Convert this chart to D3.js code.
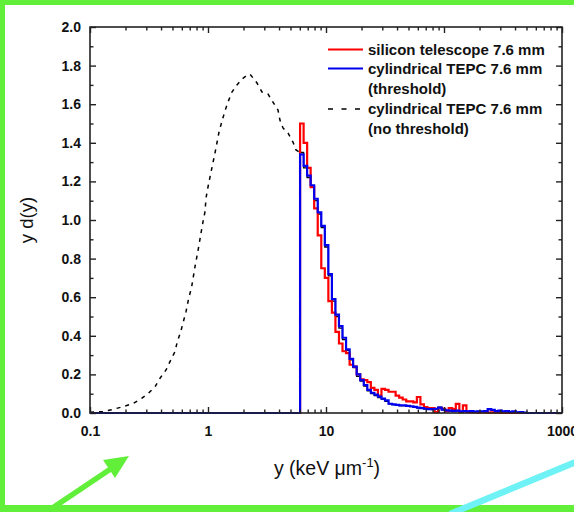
<!DOCTYPE html>
<html><head><meta charset="utf-8">
<script src="https://cdn.jsdelivr.net/npm/d3@7"></script>
<style>body{margin:0;background:#fff}svg{display:block}text{font-family:"Liberation Sans",Arial,sans-serif}</style>
</head><body><svg id="c" width="574" height="512"></svg>
<script>
// ---------- data ----------
const xTickLabels = [0.1, 1, 10, 100, 1000];
const xMinorTicks = [0.2,0.3,0.4,0.5,0.6,0.7,0.8,0.9,2,3,4,5,6,7,8,9,20,30,40,50,60,70,80,90,200,300,400,500,600,700,800,900];
const yTickLabels = [0, 0.2, 0.4, 0.6, 0.8, 1.0, 1.2, 1.4, 1.6, 1.8, 2.0];
const yMinorTicks = [0.1,0.3,0.5,0.7,0.9,1.1,1.3,1.5,1.7,1.9];

const legendLabels = ["silicon telescope 7.6 mm", "cylindrical TEPC 7.6 mm", "(threshold)", "cylindrical TEPC 7.6 mm", "(no threshold)"];

// cylindrical TEPC, no threshold: smooth low-y part (dashed)
const noThrX = [0.1,0.13,0.157,0.191,0.233,0.274,0.312,0.356,0.392,0.441,0.476,0.525,0.549,0.587,0.618,0.651,0.681,0.727,0.776,0.828,0.873,0.907,0.944,0.962,1.0,1.04,1.10,1.146,1.19,1.24,1.315,1.393,1.476,1.596,1.76,1.94,2.14,2.27,2.41,2.60,2.87,3.22,3.55,3.92,4.07,4.32,4.77,5.25,5.57,6.03];
const noThrY = [0.004,0.007,0.019,0.033,0.050,0.076,0.102,0.136,0.180,0.223,0.266,0.318,0.369,0.421,0.473,0.525,0.585,0.654,0.758,0.85,0.933,0.99,1.044,1.114,1.171,1.223,1.295,1.347,1.399,1.456,1.513,1.565,1.611,1.663,1.70,1.73,1.75,1.755,1.736,1.71,1.663,1.653,1.611,1.57,1.518,1.477,1.45,1.404,1.363,1.35];

// histogram bin edges (keV/um)
const binEdges = [6.03,6.46,6.92,7.41,7.94,8.51,9.12,9.77,10.47,11.22,12.02,12.88,13.80,14.79,15.85,16.98,18.20,19.50,20.89,22.39,23.99,25.70,27.54,29.51,31.62,33.88,36.31,38.90,41.69,44.67,47.86,51.29,54.95,58.88,63.10,67.61,72.44,77.62,83.18,89.13,95.50,102.3,109.6,117.5,125.9,134.9,144.5,154.9,166.0,177.8,190.5,204.2,218.8,234.4,251.2,269.2,288.4,309.0,331.1,354.8,380.2,407.4,436.5,467.7,501.2];

const siliconY = [1.50,1.40,1.27,1.17,1.06,0.92,0.75,0.70,0.58,0.52,0.42,0.36,0.32,0.31,0.25,0.24,0.20,0.175,0.17,0.16,0.13,0.12,0.09,0.125,0.12,0.11,0.11,0.09,0.08,0.07,0.06,0.06,0.055,0.083,0.045,0.03,0.025,0.025,0.005,0.025,0.022,0.01,0.025,0.02,0.047,0.005,0.04,0.005,0.003,0.005,0.002,0.004,0.003,0.002,0.003,0.002,0.002,0.001,0.002,0.001,0,0,0,0];

const tepcThrY = [1.34,1.28,1.23,1.18,1.11,1.04,0.97,0.87,0.72,0.59,0.51,0.45,0.39,0.33,0.28,0.24,0.20,0.17,0.145,0.12,0.105,0.095,0.085,0.075,0.065,0.048,0.045,0.042,0.04,0.04,0.037,0.035,0.032,0.028,0.025,0.022,0.02,0.02,0.022,0.028,0.018,0.014,0.012,0.01,0.012,0.008,0.01,0.008,0.01,0.007,0.009,0.008,0.01,0.02,0.016,0.01,0.012,0.008,0.01,0.006,0.008,0.004,0.005,0.002];

const tepcNoThrTailY = [1.35,1.27,1.22,1.17,1.10,1.03,0.96,0.86,0.71,0.58,0.50,0.44,0.38,0.325,0.275,0.235,0.19,0.165,0.14,0.115,0.10,0.09,0.08,0.072,0.06,0.047,0.043,0.04,0.038,0.038,0.035,0.033,0.03,0.027,0.024,0.021,0.019,0.018,0.02,0.03,0.016,0.013,0.011,0.009,0.011,0.007,0.009,0.007,0.009,0.006,0.008,0.007,0.009,0.018,0.015,0.009,0.011,0.007,0.009,0.005,0.007,0.003,0.004,0.001];

// ---------- layout ----------
const svg = d3.select("#c");
const L = 90, R = 562, T = 27, B = 413;
const x = d3.scaleLog().domain([0.1, 1000]).range([L, R]);
const y = d3.scaleLinear().domain([0, 2]).range([B, T]);
const axisColor = "#222";

// ---------- data lines ----------
function stepPoints(vals, edges) {
  const pts = [[0.1, 0]];
  vals.forEach((v, i) => pts.push([edges[i], v]));
  pts.push([edges[vals.length], 0]);
  pts.push([1000, 0]);
  return pts;
}
const stepLine = d3.line().x(d => x(d[0])).y(d => y(d[1])).curve(d3.curveStepAfter);
const smoothLine = d3.line().x(d => x(d[0])).y(d => y(d[1]));

const g = svg.append("g");
g.append("path").attr("d", smoothLine(noThrX.map((v, i) => [v, noThrY[i]])))
  .attr("fill", "none").attr("stroke", "#000").attr("stroke-width", 1.5).attr("stroke-dasharray", "4,5");
g.append("path").attr("d", stepLine(stepPoints(tepcNoThrTailY, binEdges).slice(1)))
  .attr("fill", "none").attr("stroke", "#000").attr("stroke-width", 1.3);
g.append("path").attr("d", stepLine(stepPoints(siliconY, binEdges)))
  .attr("fill", "none").attr("stroke", "#ff0000").attr("stroke-width", 2.2);
g.append("path").attr("d", stepLine(stepPoints(tepcThrY, binEdges)))
  .attr("fill", "none").attr("stroke", "#0000ee").attr("stroke-width", 2.2);

// ---------- axes ----------
const fontTick = "bold 14px 'Liberation Sans', Arial, sans-serif";
function styleAxis(sel) {
  sel.select(".domain").remove();
  sel.selectAll("line").attr("stroke", axisColor).attr("stroke-width", 1.4);
  sel.selectAll("text").style("font", fontTick).attr("fill", "#111");
}
const fmtX = d => String(d);
svg.append("g").attr("transform", `translate(0,${B})`)
  .call(d3.axisBottom(x).tickValues(xTickLabels).tickFormat(fmtX).tickSize(-6).tickPadding(13)).call(styleAxis);
svg.append("g").attr("transform", `translate(0,${B})`)
  .call(d3.axisBottom(x).tickValues(xMinorTicks).tickFormat("").tickSize(-3.5)).call(styleAxis);
svg.append("g").attr("transform", `translate(0,${T})`)
  .call(d3.axisTop(x).tickValues(xTickLabels).tickFormat("").tickSize(-6)).call(styleAxis);
svg.append("g").attr("transform", `translate(0,${T})`)
  .call(d3.axisTop(x).tickValues(xMinorTicks).tickFormat("").tickSize(-3.5)).call(styleAxis);

svg.append("g").attr("transform", `translate(${L},0)`)
  .call(d3.axisLeft(y).tickValues(yTickLabels).tickFormat(d3.format(".1f")).tickSize(-6).tickPadding(9)).call(styleAxis);
svg.append("g").attr("transform", `translate(${L},0)`)
  .call(d3.axisLeft(y).tickValues(yMinorTicks).tickFormat("").tickSize(-3.5)).call(styleAxis);
svg.append("g").attr("transform", `translate(${R},0)`)
  .call(d3.axisRight(y).tickValues(yTickLabels).tickFormat("").tickSize(-6)).call(styleAxis);
svg.append("g").attr("transform", `translate(${R},0)`)
  .call(d3.axisRight(y).tickValues(yMinorTicks).tickFormat("").tickSize(-3.5)).call(styleAxis);

svg.append("rect").attr("x", L).attr("y", T).attr("width", R - L).attr("height", B - T)
  .attr("fill", "none").attr("stroke", axisColor).attr("stroke-width", 1.6);

// axis titles
const xt = svg.append("text").attr("x", 327).attr("y", 475).attr("text-anchor", "middle")
  .style("font-size", "19.5px").attr("fill", "#111");
xt.append("tspan").text("y (keV \u03bcm");
xt.append("tspan").attr("dy", -8).style("font-size", "13px").text("-1");
xt.append("tspan").attr("dy", 8).text(")");

svg.append("text").attr("transform", "translate(33,220) rotate(-90)").attr("text-anchor", "middle")
  .style("font-size", "18.5px").attr("fill", "#111").text("y d(y)");

// legend
const lg = svg.append("g");
const legLines = [
  {y: 49.5, color: "#ff0000", dash: null},
  {y: 68.5, color: "#0000ee", dash: null},
  {y: 109, color: "#000", dash: "5,8.5"}
];
legLines.forEach(d => {
  lg.append("line").attr("x1", 328).attr("x2", 363).attr("y1", d.y).attr("y2", d.y)
    .attr("stroke", d.color).attr("stroke-width", d.dash ? 1.5 : 2.2).attr("stroke-dasharray", d.dash);
});
const legBase = [54.5, 73.5, 93.5, 113.5, 133.5];
legendLabels.forEach((t, i) => {
  lg.append("text").attr("x", 368).attr("y", legBase[i])
    .style("font", "bold 15px 'Liberation Sans', Arial, sans-serif").attr("fill", "#111").text(t);
});

// ---------- decorations ----------
const green = "#62ef3a";
svg.append("rect").attr("x", 0).attr("y", 0).attr("width", 574).attr("height", 5).attr("fill", green);
svg.append("rect").attr("x", 0).attr("y", 0).attr("width", 5).attr("height", 512).attr("fill", green);
svg.append("rect").attr("x", 0).attr("y", 505).attr("width", 574).attr("height", 7).attr("fill", green);
svg.append("line").attr("x1", 450).attr("y1", 514).attr("x2", 576).attr("y2", 462)
  .attr("stroke", "#6ef2f5").attr("stroke-width", 6.5);
svg.append("line").attr("x1", 45).attr("y1", 513).attr("x2", 112).attr("y2", 468)
  .attr("stroke", green).attr("stroke-width", 5.5);
svg.append("polygon").attr("points", "129,456 103,460 115,478").attr("fill", green);
</script></body></html>
